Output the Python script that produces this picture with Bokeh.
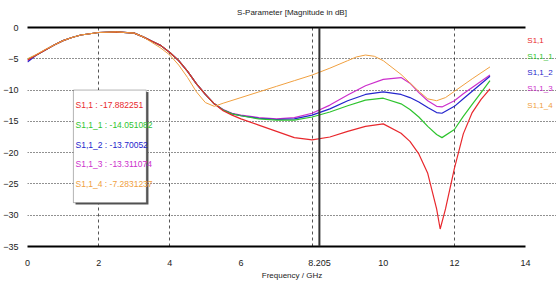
from bokeh.plotting import figure
from bokeh.models import (Range1d, FixedTicker, LinearAxis, Span, Label, BoxAnnotation, Title)
from bokeh.embed import file_html
from bokeh.resources import INLINE

# ---------------- data ----------------
freq_common = [0, 0.25, 0.5, 0.75, 1.0, 1.25, 1.5, 2.0, 2.5, 3.0, 3.25, 3.5, 3.75, 4.0,
               4.25, 4.5, 4.75, 5.0, 5.25]
db_common = [-5.2, -4.4, -3.6, -2.8, -2.1, -1.6, -1.2, -0.8, -0.7, -0.9, -1.5, -2.2, -2.9, -4.0,
             -5.3, -7.0, -9.0, -10.7, -12.2]

freq_s11 = [5.5, 5.75, 6.0, 6.5, 7.0, 7.5, 8.0, 8.5, 9.0, 9.5, 10.0, 10.5, 10.75, 11.0,
            11.25, 11.5, 11.6, 11.75, 12.0, 12.25, 12.5, 12.75, 13.0]
db_s11 = [-13.3, -14.0, -14.6, -15.6, -16.6, -17.6, -17.95, -17.5, -16.6, -15.8, -15.4, -16.9,
          -18.2, -20.2, -23.3, -29.0, -32.2, -29.0, -22.5, -17.0, -13.6, -11.5, -9.8]

freq_tail = [5.5, 5.75, 6.0, 6.5, 7.0, 7.5, 8.0, 8.5, 9.0, 9.5, 10.0, 10.5, 10.75, 11.0,
             11.25, 11.5, 11.65, 12.0, 12.25, 12.5, 12.75, 13.0]
db_s11_1 = [-13.2, -13.8, -14.1, -14.6, -14.8, -14.8, -14.3, -13.5, -12.5, -11.6, -11.3, -12.2,
            -13.1, -14.3, -15.8, -17.1, -17.6, -16.3, -14.2, -12.3, -10.4, -8.5]
db_s11_2 = [-13.2, -13.8, -14.1, -14.5, -14.7, -14.6, -14.0, -13.0, -11.7, -10.7, -10.3, -10.7,
            -11.2, -11.9, -12.8, -13.6, -13.7, -12.6, -11.4, -10.2, -9.0, -7.8]
db_s11_3 = [-13.1, -13.7, -14.0, -14.4, -14.6, -14.4, -13.7, -12.4, -10.8, -9.3, -8.3, -8.0,
            -8.9, -10.4, -11.7, -12.6, -12.7, -11.7, -10.6, -9.6, -8.6, -7.6]

freq_s11_4 = [0, 0.25, 0.5, 0.75, 1.0, 1.25, 1.5, 2.0, 2.5, 3.0, 3.25, 3.5, 3.75, 4.0, 4.25,
              4.5, 4.75, 5.0, 5.25, 5.5, 6.0, 6.5, 7.0, 7.5, 8.0, 8.5, 9.0, 9.25, 9.5, 9.75,
              10.0, 10.5, 11.0, 11.25, 11.5, 11.75, 12.0, 12.5, 13.0]
db_s11_4 = [-5.0, -4.3, -3.5, -2.8, -2.1, -1.6, -1.2, -0.8, -0.7, -0.9, -1.5, -2.4, -3.3, -4.4,
            -6.0, -8.0, -10.3, -12.0, -12.6, -12.1, -11.2, -10.3, -9.4, -8.5, -7.6, -6.5, -5.3,
            -4.7, -4.4, -4.6, -5.3, -7.5, -10.2, -11.4, -11.7, -11.2, -10.2, -8.2, -6.3]

start_offsets = [0.0, 0.1, -0.3, -0.1]  # S1,1 / _1 / _2 / _3 values at 0 GHz differ slightly

names = ["S1,1", "S1,1_1", "S1,1_2", "S1,1_3", "S1,1_4"]
colors = ["#e8282d", "#2fc42f", "#2424cc", "#cc2fcc", "#f0a040"]
marker_freq = 8.205
marker_values = [-17.882251, -14.051082, -13.70052, -13.311074, -7.2831237]

x_ticks = [0, 2, 4, 6, marker_freq, 10, 12, 14]
x_grid = [2, 4, 8, 12]
y_ticks = [0, -5, -10, -15, -20, -25, -30, -35]
x_min, x_max = 0, 14

FONT = "Liberation Sans Narrow, Liberation Sans, sans-serif"

# ---------------- figure ----------------
W, H = 556, 288
LEFT, RIGHT, TOP, BOTTOM = 26, 0, 27, 42
px_per_ghz = (525 - 26) / (x_max - x_min)
x_end = x_min + (W - LEFT - RIGHT) / px_per_ghz

p = figure(width=W, height=H, output_backend="svg", toolbar_location=None,
           x_range=Range1d(x_min, x_end), y_range=Range1d(-35, 0),
           min_border_left=LEFT, min_border_right=RIGHT, min_border_top=TOP,
           min_border_bottom=BOTTOM,
           background_fill_color="white", border_fill_color="white")
p.outline_line_color = None

p.title.text = "S-Parameter [Magnitude in dB]"
p.title.align = "center"
p.title.offset = -13
p.title.standoff = 2
p.title.text_font = FONT
p.title.text_font_size = "8px"
p.title.text_font_style = "normal"
p.title.text_color = "#222222"

# axes
p.xaxis.ticker = FixedTicker(ticks=x_ticks)
p.xaxis.major_label_overrides = {t: (f"{t:g}") for t in x_ticks}
p.yaxis.ticker = FixedTicker(ticks=y_ticks)
for ax in (p.xaxis[0], p.yaxis[0]):
    ax.major_tick_line_color = None
    ax.minor_tick_line_color = None
    ax.major_label_text_font = FONT
    ax.major_label_text_font_size = "9px"
    ax.major_label_text_color = "#222222"
p.yaxis.axis_line_color = None
p.yaxis.major_label_standoff = 3
p.xaxis.axis_line_color = "black"
p.xaxis.axis_line_width = 2
p.xaxis.bounds = (x_min, x_max)
p.xaxis.major_label_standoff = 7

top = LinearAxis(ticker=FixedTicker(ticks=[]), axis_line_color="black", axis_line_width=2,
                 major_tick_line_color=None, minor_tick_line_color=None,
                 major_label_text_font_size="0px", bounds=(x_min, x_max),
                 axis_label="\u00a0", axis_label_text_font_size="4px",
                 axis_label_standoff=2)
p.add_layout(top, "above")

p.add_layout(Title(text="Frequency / GHz", align="center", offset=-13, standoff=0,
                   text_font=FONT, text_font_size="8px", text_font_style="normal",
                   text_color="#222222"), "below")

# grid
p.xgrid.ticker = FixedTicker(ticks=x_grid)
p.xgrid.grid_line_color = "#555555"
p.xgrid.grid_line_dash = "3 3"
p.xgrid.grid_line_width = 1
p.ygrid.ticker = FixedTicker(ticks=[t for t in y_ticks if t not in (0, -35)])
p.ygrid.bounds = (x_min, x_max)
p.ygrid.grid_line_color = "#222222"
p.ygrid.grid_line_dash = "1 2"
p.ygrid.grid_line_width = 1

# curves
tails = [(freq_s11, db_s11), (freq_tail, db_s11_1), (freq_tail, db_s11_2), (freq_tail, db_s11_3)]
for i in [3, 2, 1, 0]:
    fx, dy = tails[i]
    head_db = [db_common[0] + start_offsets[i]] + db_common[1:]
    p.line(freq_common + fx, head_db + dy, line_color=colors[i], line_width=1.2)
p.line(freq_s11_4, db_s11_4, line_color=colors[4], line_width=1.0)

# marker line
p.add_layout(Span(location=marker_freq, dimension="height", line_color="#333333", line_width=2))

# value box
p.add_layout(BoxAnnotation(left=1.35, right=3.40, top=-10.3, bottom=-28.3,
                           fill_color="#555555", fill_alpha=1, line_color=None))
p.add_layout(BoxAnnotation(left=1.29, right=3.34, top=-10.0, bottom=-28.0,
                           fill_color="white", fill_alpha=1, line_color="black", line_width=1))
for i, (n, v) in enumerate(zip(names, marker_values)):
    p.add_layout(Label(x=1.35, y=-12.4 - 3.15 * i, text=f"{n} : {v}",
                       text_align="left", text_baseline="middle",
                       text_font=FONT, text_font_size="8.5px", text_color=colors[i]))

# right legend
for i, n in enumerate(names):
    p.add_layout(Label(x=14.05, y=-2.0 - 2.6 * i, text=n,
                       text_align="left", text_baseline="middle",
                       text_font=FONT, text_font_size="8px", text_color=colors[i]))

open("out.html", "w").write(file_html(p, INLINE))
